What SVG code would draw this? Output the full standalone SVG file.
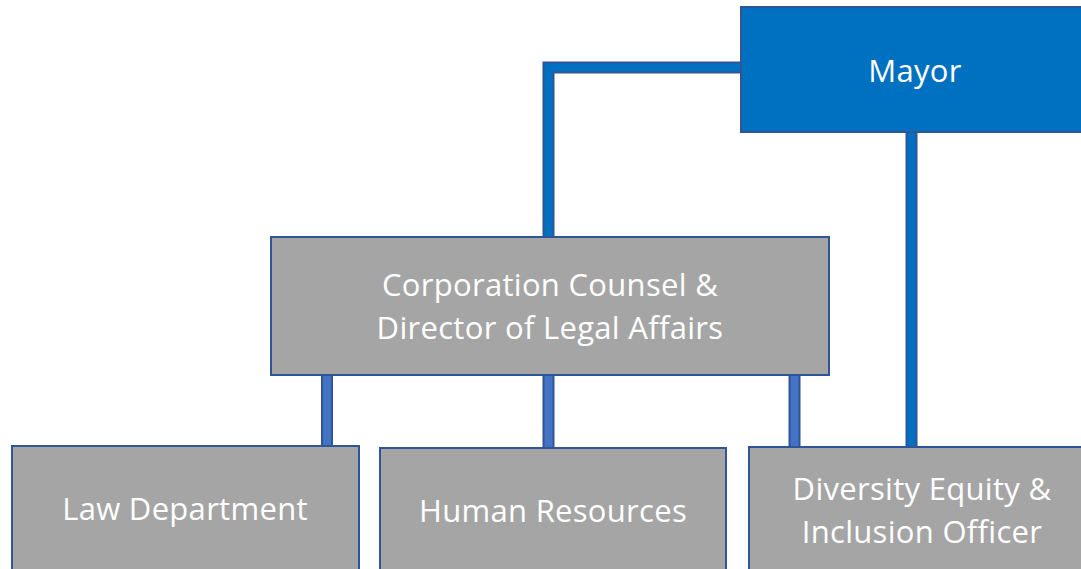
<svg xmlns="http://www.w3.org/2000/svg" width="1081" height="569" viewBox="0 0 1081 569">
<style>
.box{stroke:#2F5597;stroke-width:2}
.mayor{fill:#0070C0}
.gray{fill:#A5A5A5}
.t{font-family:"Open Sans","Liberation Sans",sans-serif;font-size:31px;letter-spacing:0.3px;fill:#FFFFFF;text-anchor:middle}
.out{fill:none;stroke:#2F5597;stroke-width:12;stroke-linejoin:miter}
.in1{fill:none;stroke:#0070C0;stroke-width:8;stroke-linejoin:miter}
.in2{fill:none;stroke:#4472C4;stroke-width:8}
</style>
<rect width="1081" height="569" fill="#FFFFFF"/>
<g id="connectors">
<path class="out" d="M741 67.5 H548.5 V237"/>
<path class="in1" d="M741 67.5 H548.5 V237"/>
<path class="out" d="M911.5 132 V446"/>
<path class="in1" d="M911.5 132 V446"/>
<path class="out" d="M327 375 V446"/>
<path class="in2" d="M327 375 V446"/>
<path class="out" d="M548.5 375 V448"/>
<path class="in2" d="M548.5 375 V448"/>
<path class="out" d="M794.5 375 V447"/>
<path class="in2" d="M794.5 375 V447"/>
</g>
<g id="mayor">
<rect class="box mayor" x="741" y="7" width="345" height="125"/>
<text class="t" x="915" y="82">Mayor</text>
</g>
<g id="corporation-counsel">
<rect class="box gray" x="271" y="237" width="558" height="138"/>
<text class="t" x="550" y="296">Corporation Counsel &amp;</text>
<text class="t" x="550" y="339">Director of Legal Affairs</text>
</g>
<g id="law-department">
<rect class="box gray" x="12" y="446" width="347" height="130"/>
<text class="t" x="185" y="520">Law Department</text>
</g>
<g id="human-resources">
<rect class="box gray" x="380" y="448" width="346" height="130"/>
<text class="t" x="553" y="522">Human Resources</text>
</g>
<g id="dei-officer">
<rect class="box gray" x="749" y="447" width="340" height="130"/>
<text class="t" x="922" y="500">Diversity Equity &amp;</text>
<text class="t" x="922" y="543">Inclusion Officer</text>
</g>
</svg>
